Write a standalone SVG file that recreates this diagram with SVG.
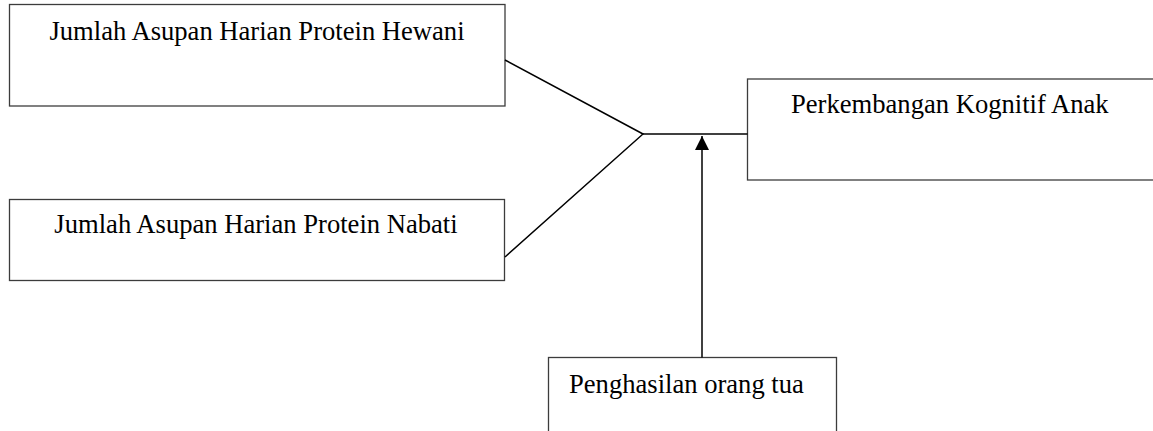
<svg xmlns="http://www.w3.org/2000/svg" width="1153" height="431" viewBox="0 0 1153 431">
<defs>
<style>
.box{fill:#fff;stroke:#3c3c3c;stroke-width:1.3}
.lbl{font-family:"Liberation Serif","Times New Roman",serif;font-size:26.6px;fill:#000}
.ln{stroke:#000;stroke-width:1.5;fill:none}
</style>
<marker id="ah" markerWidth="16" markerHeight="14" refX="14" refY="7" orient="auto" markerUnits="userSpaceOnUse">
<path d="M0,0 L14,7 L0,14 Z" fill="#000"/>
</marker>
</defs>
<rect width="1153" height="431" fill="#fff"/>
<g id="node-hewani">
<rect class="box" x="9.5" y="4.5" width="495.5" height="101.5"/>
<text class="lbl" x="257" y="40" text-anchor="middle">Jumlah Asupan Harian Protein Hewani</text>
</g>
<g id="node-nabati">
<rect class="box" x="9.5" y="199.5" width="495" height="81"/>
<text class="lbl" x="256" y="233" text-anchor="middle">Jumlah Asupan Harian Protein Nabati</text>
</g>
<g id="node-kognitif">
<rect class="box" x="747.5" y="79" width="420" height="101"/>
<text class="lbl" x="791" y="113">Perkembangan Kognitif Anak</text>
</g>
<g id="node-penghasilan">
<rect class="box" x="548.5" y="357.5" width="288" height="90"/>
<text class="lbl" x="569" y="393">Penghasilan orang tua</text>
</g>
<g id="connectors">
<polyline class="ln" points="505,60 643,134 505,257"/>
<line class="ln" x1="643" y1="134" x2="747.5" y2="134"/>
<line class="ln" x1="702" y1="357.5" x2="702" y2="136" marker-end="url(#ah)"/>
</g>
</svg>
